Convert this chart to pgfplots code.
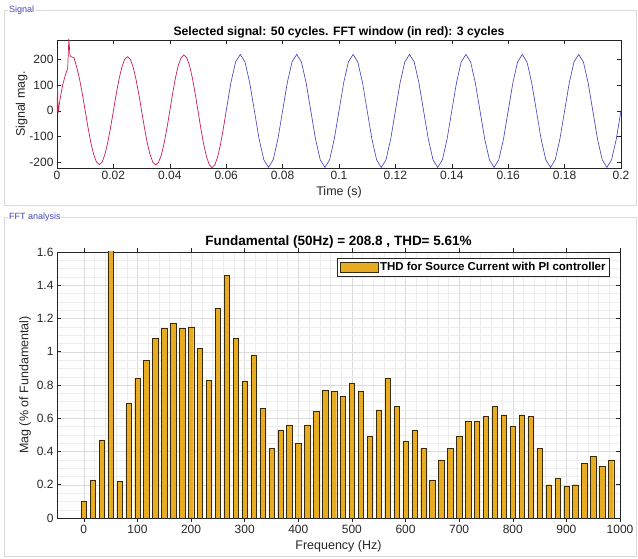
\documentclass[border=0pt]{standalone}
\usepackage{pgfplots}
\pgfplotsset{compat=1.18}
\usepackage{fontspec}
\setmainfont{Liberation Sans}
\definecolor{mlgold}{RGB}{232,172,34}
\definecolor{mlred}{RGB}{200,30,80}
\definecolor{mlblue}{RGB}{60,60,190}
\definecolor{mlaxis}{RGB}{38,38,38}
\definecolor{paneltxt}{RGB}{70,70,180}
\pgfplotsset{mybarlegend/.style={legend image code/.code={\draw[##1] (-4pt,-5pt) rectangle (34pt,5pt);}}}
\begin{document}
\begin{tikzpicture}[x=1pt,y=1pt]
\path[use as bounding box] (0,0) rectangle (638,559);
% panel frames
\draw[black!15] (4,354) rectangle (636,549);
\node[anchor=west, fill=white, inner xsep=1pt, inner ysep=0pt, font=\fontsize{9}{10}\selectfont, text=paneltxt] at (8,549) {Signal};
\draw[black!15] (4,3) rectangle (636,342);
\node[anchor=west, fill=white, inner xsep=1pt, inner ysep=0pt, font=\fontsize{9}{10}\selectfont, text=paneltxt] at (8,342) {FFT analysis};

\pgfplotsset{mlstyle/.style={
  scale only axis,
  axis line style={mlaxis, line width=0.5pt},
  tick style={mlaxis, line width=0.5pt},
  major tick length=4pt,
  minor tick length=0pt,
  tick align=inside,
  ticklabel style={font=\fontsize{12}{13}\selectfont, text=mlaxis},
  label style={font=\fontsize{12.5}{14}\selectfont, text=mlaxis},
  /pgf/number format/assume math mode=true}}

% ---------- Signal ----------
\begin{axis}[mlstyle,
  at={(57pt,391pt)}, anchor=south west,
  width=564pt, height=128pt,
  xmin=0, xmax=0.2, ymin=-222, ymax=275,
  xtick={0,0.02,0.04,0.06,0.08,0.1,0.12,0.14,0.16,0.18,0.2},
  xticklabels={0,0.02,0.04,0.06,0.08,0.1,0.12,0.14,0.16,0.18,0.2},
  ytick={-200,-100,0,100,200},
  yticklabels={-200,-100,0,100,200},
  title={Selected signal: 50 cycles. FFT window (in red): 3 cycles},
  title style={font=\bfseries\fontsize{12.2}{14}\selectfont, yshift=-8pt},
  xlabel={Time (s)}, ylabel={Signal mag.},
  xlabel style={yshift=0pt}, ylabel style={yshift=-5pt}]
\addplot[mlblue, line width=0.6pt] coordinates {
(0.06,0) (0.06167,109.5) (0.06333,189.7) (0.065,219) (0.06667,189.7) (0.06833,109.5) (0.07,0) (0.07167,-109.5) (0.07333,-189.7) (0.075,-220) (0.07667,-189.7) (0.07833,-109.5)
(0.08,0) (0.08167,109.5) (0.08333,189.7) (0.085,219) (0.08667,189.7) (0.08833,109.5) (0.09,0) (0.09167,-109.5) (0.09333,-189.7) (0.095,-220) (0.09667,-189.7) (0.09833,-109.5)
(0.10,0) (0.10167,109.5) (0.10333,189.7) (0.105,219) (0.10667,189.7) (0.10833,109.5) (0.11,0) (0.11167,-109.5) (0.11333,-189.7) (0.115,-220) (0.11667,-189.7) (0.11833,-109.5)
(0.12,0) (0.12167,109.5) (0.12333,189.7) (0.125,219) (0.12667,189.7) (0.12833,109.5) (0.13,0) (0.13167,-109.5) (0.13333,-189.7) (0.135,-220) (0.13667,-189.7) (0.13833,-109.5)
(0.14,0) (0.14167,109.5) (0.14333,189.7) (0.145,219) (0.14667,189.7) (0.14833,109.5) (0.15,0) (0.15167,-109.5) (0.15333,-189.7) (0.155,-220) (0.15667,-189.7) (0.15833,-109.5)
(0.16,0) (0.16167,109.5) (0.16333,189.7) (0.165,219) (0.16667,189.7) (0.16833,109.5) (0.17,0) (0.17167,-109.5) (0.17333,-189.7) (0.175,-220) (0.17667,-189.7) (0.17833,-109.5)
(0.18,0) (0.18167,109.5) (0.18333,189.7) (0.185,219) (0.18667,189.7) (0.18833,109.5) (0.19,0) (0.19167,-109.5) (0.19333,-189.7) (0.195,-220) (0.19667,-189.7) (0.19833,-109.5)
(0.2,0)};
\addplot[mlred, line width=0.7pt] coordinates {
(0,-5) (0.0002,90) (0.0004,-8) (0.001,40) (0.002,100) (0.003,140) (0.0038,165) (0.0042,280) (0.0046,215) (0.005,210) (0.006,207)
(0.007,169) (0.008,123) (0.009,65) (0.010,0) (0.011,-65) (0.012,-123) (0.013,-169) (0.014,-199) (0.015,-209) (0.016,-199) (0.017,-169) (0.018,-123) (0.019,-65)
(0.020,0) (0.021,65) (0.022,123) (0.023,170) (0.024,200) (0.025,210) (0.026,200) (0.027,170) (0.028,123) (0.029,65) (0.030,0) (0.031,-65) (0.032,-124) (0.033,-170) (0.034,-200) (0.035,-210) (0.036,-200) (0.037,-172) (0.038,-125) (0.039,-66)
(0.040,0) (0.041,67) (0.042,128) (0.043,176) (0.044,206) (0.045,217) (0.046,206) (0.047,176) (0.048,128) (0.049,67) (0.050,0) (0.051,-68) (0.052,-129) (0.053,-178) (0.054,-209) (0.055,-221) (0.056,-209) (0.057,-178) (0.058,-129) (0.059,-68) (0.060,0)};
\end{axis}

% ---------- FFT ----------
\begin{axis}[mlstyle,
  at={(57pt,41pt)}, anchor=south west,
  width=563pt, height=266pt,
  xmin=-50, xmax=1000, ymin=0, ymax=1.6,
  xtick={0,100,200,300,400,500,600,700,800,900,1000},
  xticklabels={0,100,200,300,400,500,600,700,800,900,1000},
  ytick={0,0.2,0.4,0.6,0.8,1,1.2,1.4,1.6},
  yticklabels={0,0.2,0.4,0.6,0.8,1,1.2,1.4,1.6},
  minor x tick num=4, minor y tick num=3,
  grid=both,
  major grid style={black!14, line width=0.4pt},
  minor grid style={black!7, line width=0.3pt},
  ybar, bar width=10,
  title={Fundamental (50Hz) = 208.8 , THD= 5.61\%},
  title style={font=\bfseries\fontsize{13.5}{15}\selectfont, yshift=-6pt},
  xlabel={Frequency (Hz)}, ylabel={Mag (\% of Fundamental)},
  xlabel style={yshift=0pt}, ylabel style={yshift=-1pt},
  legend style={at={(0.982,0.977)}, anchor=north east, draw=mlaxis, line width=0.5pt,
    font=\bfseries\fontsize{11.5}{13}\selectfont, inner sep=2pt},
  legend cell align=left]
\addplot[fill=mlgold, draw=black!75!mlgold, line width=0.4pt,
  restrict y to domain*=0:1.8, mybarlegend] coordinates {
(0,0.10) (16.67,0.23) (33.33,0.47) (50,100) (66.67,0.22) (83.33,0.69)
(100,0.84) (116.67,0.95) (133.33,1.08) (150,1.14) (166.67,1.17) (183.33,1.14)
(200,1.15) (216.67,1.02) (233.33,0.83) (250,1.26) (266.67,1.46) (283.33,1.08)
(300,0.82) (316.67,0.98) (333.33,0.66) (350,0.42) (366.67,0.53) (383.33,0.56)
(400,0.45) (416.67,0.56) (433.33,0.64) (450,0.77) (466.67,0.76) (483.33,0.73)
(500,0.81) (516.67,0.76) (533.33,0.49) (550,0.65) (566.67,0.84) (583.33,0.67)
(600,0.46) (616.67,0.53) (633.33,0.42) (650,0.23) (666.67,0.35) (683.33,0.42)
(700,0.49) (716.67,0.58) (733.33,0.58) (750,0.61) (766.67,0.67) (783.33,0.62)
(800,0.55) (816.67,0.62) (833.33,0.61) (850,0.42) (866.67,0.20) (883.33,0.24)
(900,0.19) (916.67,0.20) (933.33,0.33) (950,0.37) (966.67,0.31) (983.33,0.35)};
\addlegendentry{THD for Source Current with PI controller}
\end{axis}
\end{tikzpicture}
\end{document}
